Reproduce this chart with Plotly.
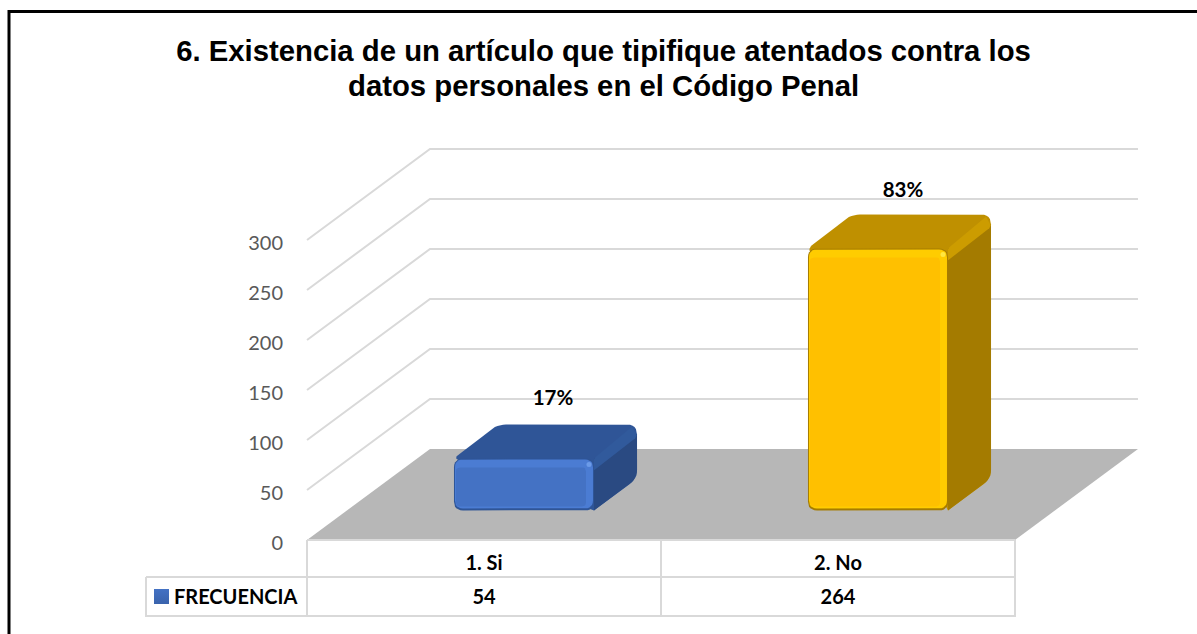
import plotly.graph_objects as go

# ---- data ----
categories = ["1. Si", "2. No"]
frecuencia = [54, 264]
percent_labels = ["17%", "83%"]
y_ticks = [0, 50, 100, 150, 200, 250, 300]
series_name = "FRECUENCIA"
title_line_1 = "6. Existencia de un artículo que tipifique atentados contra los"
title_line_2 = "datos personales en el Código Penal"

# ---- style / projection ----
W, H = 1197, 634
CAT_PX = 354.0            # pixels per category
X0_PX, Y0_PX = 307.0, 540.0
DEPTH_X, DEPTH_Y = 123.0, 91.0
D0, D1 = 0.325, 0.675
BAR_W = 140.0
LABEL_DX = [-14, -18]
LABEL_DY = [-25, -23]
faces = [
    dict(edge="#2F5597", bevel="#4B7CD3", body="#4472C4", top="#2F5597", side="#2A4A82", strip="#315A9C", spot="#6C9BE8"),
    dict(edge="#A67C00", bevel="#FFCC00", body="#FFC000", top="#BF9000", side="#A47B00", strip="#CC9C00", spot="#FFE640"),
]
GRID = "#D9D9D9"
FLOOR = "#B7B7B7"


def to_px(cat, val, depth=0.0):
    return X0_PX + cat * CAT_PX + depth * DEPTH_X, Y0_PX - val - depth * DEPTH_Y


def to_data(px, py):
    return (px - X0_PX) / CAT_PX, Y0_PX - py


def rounded(points, radius):
    """Rounded polygon in pixel space, returned in axis units."""
    n = len(points)
    out = []
    for i in range(n):
        p0, p1, p2 = points[i - 1], points[i], points[(i + 1) % n]
        r = radius[i] if isinstance(radius, (list, tuple)) else radius
        def toward(a, b, d):
            L = ((b[0] - a[0]) ** 2 + (b[1] - a[1]) ** 2) ** 0.5 or 1
            d = min(d, L / 2)
            return a[0] + (b[0] - a[0]) * d / L, a[1] + (b[1] - a[1]) * d / L
        a, b = toward(p1, p0, r), toward(p1, p2, r)
        for k in range(7):
            t = k / 6
            out.append(((1 - t) ** 2 * a[0] + 2 * t * (1 - t) * p1[0] + t ** 2 * b[0],
                        (1 - t) ** 2 * a[1] + 2 * t * (1 - t) * p1[1] + t ** 2 * b[1]))
    out.append(out[0])
    data = [to_data(*p) for p in out]
    return [d[0] for d in data], [d[1] for d in data]


fig = go.Figure()


def poly(xs, ys, color):
    fig.add_trace(go.Scatter(x=xs, y=ys, mode="lines", fill="toself", fillcolor=color,
                             line=dict(width=0, color=color), hoverinfo="skip", showlegend=False))


def line(xs, ys, color=GRID, width=2):
    fig.add_trace(go.Scatter(x=xs, y=ys, mode="lines", line=dict(color=color, width=width),
                             hoverinfo="skip", showlegend=False))


# walls: gridlines
DX_CAT = DEPTH_X / CAT_PX
n_cat = len(categories)
for v in y_ticks[1:]:
    line([0, DX_CAT, n_cat + DX_CAT], [v, v + DEPTH_Y, v + DEPTH_Y])

# floor
poly([0, DX_CAT, n_cat + DX_CAT, n_cat, 0], [0, DEPTH_Y, DEPTH_Y, 0, 0], FLOOR)

# bars
for i, (val, f) in enumerate(zip(frecuencia, faces)):
    cx = i + 0.5
    half = BAR_W / 2 / CAT_PX
    xl, xr = cx - half, cx + half
    v = val - 2
    fl = to_px(xl, 0, D0); fr = to_px(xr, 0, D0)
    tl = to_px(xl, v, D0); tr = to_px(xr, v, D0)
    bl = to_px(xl, val, D1); br = to_px(xr, val, D1)
    br0 = to_px(xr, 0, D1)
    # silhouette carries the top colour
    poly(*rounded([tl, bl, br, br0, fr], [5, 9, 10, 9, 0]), f["top"])
    # side face, under the rounded back corner
    poly(*rounded([fr, br0, (br[0], br[1] + 10), tr], [0, 9, 0, 0]), f["side"])
    # lighter strip along the top-right edge
    poly(*rounded([tr, (br[0] - 5, br[1] + 2), (br[0], br[1] + 10), (br[0] - 1, br[1] + 13), (tr[0], tr[1] + 12)], 1), f["strip"])
    # front face layers
    poly(*rounded([fl, fr, tr, tl], 9), f["edge"])
    poly(*rounded([(fl[0] + 1, fl[1] - 2), (fr[0] - 1, fr[1] - 2), (tr[0] - 1, tr[1] + 1), (tl[0] + 1, tl[1] + 1)], 8), f["bevel"])
    poly(*rounded([(fl[0] + 2, fl[1] - 4), (fr[0] - 8, fr[1] - 4), (tr[0] - 8, tr[1] + 9), (tl[0] + 2, tl[1] + 9)], 4), f["body"])
    sx, sy = to_data(tr[0] - 5, tr[1] + 6)
    fig.add_trace(go.Scatter(x=[sx], y=[sy], mode="markers", marker=dict(size=5, color=f["spot"], line=dict(width=0)),
                             hoverinfo="skip", showlegend=False))

# percent labels
lab_px = [to_px(i + 0.5, val, D1) for i, val in enumerate(frecuencia)]
lab_xy = [to_data(p[0] + dx, p[1] + dy) for p, dx, dy in zip(lab_px, LABEL_DX, LABEL_DY)]
fig.add_trace(go.Scatter(x=[p[0] for p in lab_xy], y=[p[1] for p in lab_xy], mode="text", text=percent_labels,
                         textposition="middle center",
                         textfont=dict(family="Lato", size=20.5, color="#000000", weight="bold"),
                         hoverinfo="skip", showlegend=False))

# data table
Y_ROW = to_data(0, 577)[1]
Y_BOT = to_data(0, 616)[1]
X_KEY = to_data(146, 0)[0]
for c in range(n_cat + 1):
    line([c, c], [0, Y_BOT], width=2)
line([0, n_cat], [0, 0], width=2)
line([X_KEY, n_cat, n_cat, X_KEY, X_KEY], [Y_ROW, Y_ROW, Y_BOT, Y_BOT, Y_ROW], width=2)
y_cat = to_data(0, 565)[1]
y_val = to_data(0, 599)[1]
table_font = dict(family="Lato", size=20, color="#000000", weight="bold")
fig.add_trace(go.Scatter(x=[i + 0.5 for i in range(n_cat)], y=[y_cat] * n_cat, mode="text", text=categories,
                         textposition="middle center", textfont=table_font, hoverinfo="skip", showlegend=False))
fig.add_trace(go.Scatter(x=[i + 0.5 for i in range(n_cat)], y=[y_val] * n_cat, mode="text", text=[str(v) for v in frecuencia],
                         textposition="middle center", textfont=table_font, hoverinfo="skip", showlegend=False))
kx, ky = to_data(161.5, 596.5)
fig.add_trace(go.Scatter(x=[kx], y=[ky], mode="markers",
                         marker=dict(symbol="square", size=15, color="#4472C4", line=dict(width=0),
                                     gradient=dict(type="vertical", color="#3A63AC")),
                         hoverinfo="skip", showlegend=False))
nx, _ = to_data(174, 0)
fig.add_trace(go.Scatter(x=[nx], y=[y_val], mode="text", text=[series_name], textposition="middle right",
                         textfont=table_font, hoverinfo="skip", showlegend=False))

title_font = dict(family="Liberation Sans", size=29.3, color="#000000", weight="bold")
fig.update_layout(
    width=W, height=H, autosize=False,
    margin=dict(l=0, r=0, t=0, b=0),
    paper_bgcolor="#FFFFFF", plot_bgcolor="#FFFFFF",
    showlegend=False,
    title=dict(text=title_line_1, x=603.5 / W, xanchor="center", y=1 - 51 / H, yanchor="middle", font=title_font),
    annotations=[dict(text=title_line_2, xref="paper", yref="paper", x=603.5 / W, y=1 - 85 / H,
                      xanchor="center", yanchor="middle", showarrow=False, font=title_font)],
    xaxis=dict(range=[-X0_PX / CAT_PX, (W - X0_PX) / CAT_PX], visible=False, fixedrange=True),
    yaxis=dict(range=[Y0_PX - H, Y0_PX], tickmode="array", tickvals=y_ticks,
               anchor="free", position=283 / W, showgrid=False, zeroline=False, showline=False, ticks="",
               ticklabelshift=3,
               tickfont=dict(family="Lato", size=20, color="#595959"), fixedrange=True),
    shapes=[dict(type="path", xref="paper", yref="paper",
                 path=f"M {9/W} 0 L {9/W} {1-11.5/H} L 1 {1-11.5/H}",
                 line=dict(color="#000000", width=3))],
)
fig.write_html("out.html", config={"displayModeBar": False},
               post_script="document.body.style.margin='0';document.documentElement.style.overflow='hidden';")
